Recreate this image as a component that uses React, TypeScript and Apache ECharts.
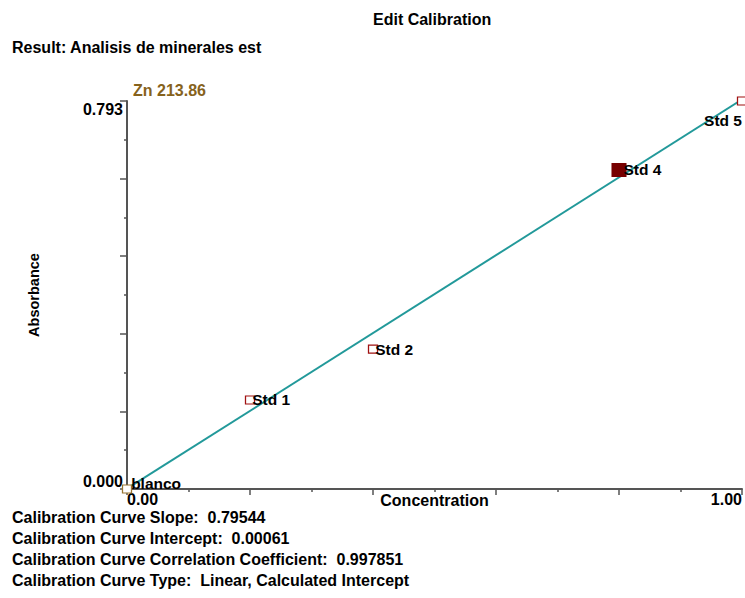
import React, { useEffect, useRef } from "react";
import * as echarts from "echarts";

const pointLabels = ["blanco", "Std 1", "Std 2", "Std 4", "Std 5"];
const concentration = [0, 0.2, 0.4, 0.8, 1.0];
const absorbance = [0.0, 0.182, 0.286, 0.652, 0.793];
const slope = 0.79544;
const intercept = 0.00061;
const correlation = "0.997851";
const curveType = "Linear, Calculated Intercept";
const yMax = 0.793;
const xMax = 1.0;

const FONT = "'Liberation Sans', Arial, sans-serif";

export default function App() {
  const ref = useRef<HTMLDivElement>(null);
  useEffect(() => {
    if (!ref.current) return;
    const chart = echarts.init(ref.current, null, { renderer: "svg" });
    const pts = pointLabels.map((name, i) => {
      const isBlank = i === 0;
      const isFilled = name === "Std 4";
      const isLast = i === pointLabels.length - 1;
      return {
        name,
        value: [concentration[i], absorbance[i]],
        symbol: "rect",
        symbolSize: isFilled ? [14, 13] : [9, 8],
        itemStyle: isFilled
          ? { color: "#770000", borderColor: "#770000", borderWidth: 1, opacity: 1 }
          : {
              color: "#ffffff",
              borderColor: isBlank ? "#9a7530" : "#a01010",
              borderWidth: 1.2,
              opacity: 1,
            },
        label: {
          show: true,
          formatter: name,
          position: isLast ? "bottom" : "right",
          align: isLast ? "right" : "left",
          distance: isLast ? 7 : -3,
          offset: isBlank ? [2, -6] : [0, 0],
          color: "#000",
          fontFamily: FONT,
          fontWeight: "bold",
          fontSize: 15.5,
        },
      };
    });
    const textStyle = (extra: any) => ({
      fontFamily: FONT,
      fontWeight: "bold",
      fontSize: 16,
      fill: "#000",
      ...extra,
    });
    const statLines = [
      `Calibration Curve Slope:  ${slope.toFixed(5)}`,
      `Calibration Curve Intercept:  ${intercept.toFixed(5)}`,
      `Calibration Curve Correlation Coefficient:  ${correlation}`,
      `Calibration Curve Type:  ${curveType}`,
    ];
    chart.setOption({
      animation: false,
      grid: { left: 127, right: 3, top: 101, bottom: 109, containLabel: false },
      xAxis: {
        type: "value",
        min: 0,
        max: xMax,
        interval: 0.2,
        name: "Concentration",
        nameLocation: "middle",
        nameGap: 3,
        nameMoveOverlap: false,
        nameTextStyle: { fontFamily: FONT, fontWeight: "bold", fontSize: 16, color: "#000" },
        axisLine: { show: true, lineStyle: { color: "#555", width: 2 } },
        axisTick: { show: true, inside: false, length: 6, lineStyle: { color: "#555", width: 1.5 } },
        minorTick: { show: true, splitNumber: 2, length: 3, lineStyle: { color: "#555", width: 1.5 } },
        splitLine: { show: false },
        axisLabel: {
          margin: 2,
          fontFamily: FONT,
          fontWeight: "bold",
          fontSize: 16,
          color: "#000",
          showMinLabel: true,
          showMaxLabel: true,
          alignMinLabel: "left",
          alignMaxLabel: "right",
          formatter: (v: number) => (v === 0 || v === xMax ? v.toFixed(2) : ""),
        },
      },
      yAxis: {
        type: "value",
        min: 0,
        max: yMax,
        interval: yMax / 5,
        name: "Absorbance",
        nameLocation: "middle",
        nameGap: 86,
        nameRotate: 90,
        nameMoveOverlap: false,
        nameTextStyle: { fontFamily: FONT, fontWeight: "bold", fontSize: 14.5, color: "#000" },
        axisLine: { show: true, lineStyle: { color: "#555", width: 2 } },
        axisTick: { show: true, inside: false, length: 7, lineStyle: { color: "#555", width: 1.5 } },
        minorTick: { show: true, splitNumber: 2, length: 3, lineStyle: { color: "#555", width: 1.5 } },
        splitLine: { show: false },
        axisLabel: {
          margin: 4,
          fontFamily: FONT,
          fontWeight: "bold",
          fontSize: 16,
          color: "#000",
          showMinLabel: true,
          showMaxLabel: true,
          verticalAlignMinLabel: "bottom",
          verticalAlignMaxLabel: "top",
          formatter: (v: number) =>
            Math.abs(v) < 1e-9 || Math.abs(v - yMax) < 1e-9 ? v.toFixed(3) : "",
        },
      },
      series: [
        {
          type: "line",
          data: [
            [0, intercept],
            [xMax, slope * xMax + intercept],
          ],
          symbol: "none",
          clip: true,
          lineStyle: { color: "#22999a", width: 2 },
          z: 2,
          silent: true,
        },
        {
          type: "scatter",
          symbol: "rect",
          data: pts,
          clip: false,
          z: 3,
          itemStyle: { opacity: 1 },
        },
      ],
      graphic: [
        {
          type: "text",
          left: 373,
          top: 11,
          style: textStyle({ text: "Edit Calibration" }),
        },
        {
          type: "text",
          left: 12,
          top: 39,
          style: textStyle({ text: "Result: Analisis de minerales est" }),
        },
        {
          type: "text",
          left: 133,
          top: 82,
          style: textStyle({ text: "Zn 213.86", fill: "#86621c" }),
        },
        ...statLines.map((t, i) => ({
          type: "text",
          left: 12,
          top: 509 + i * 21,
          style: textStyle({ text: t }),
        })),
      ],
    });
    return () => chart.dispose();
  }, []);
  return <div ref={ref} style={{ width: 745, height: 598, position: "absolute", left: 0, top: 0 }} />;
}
